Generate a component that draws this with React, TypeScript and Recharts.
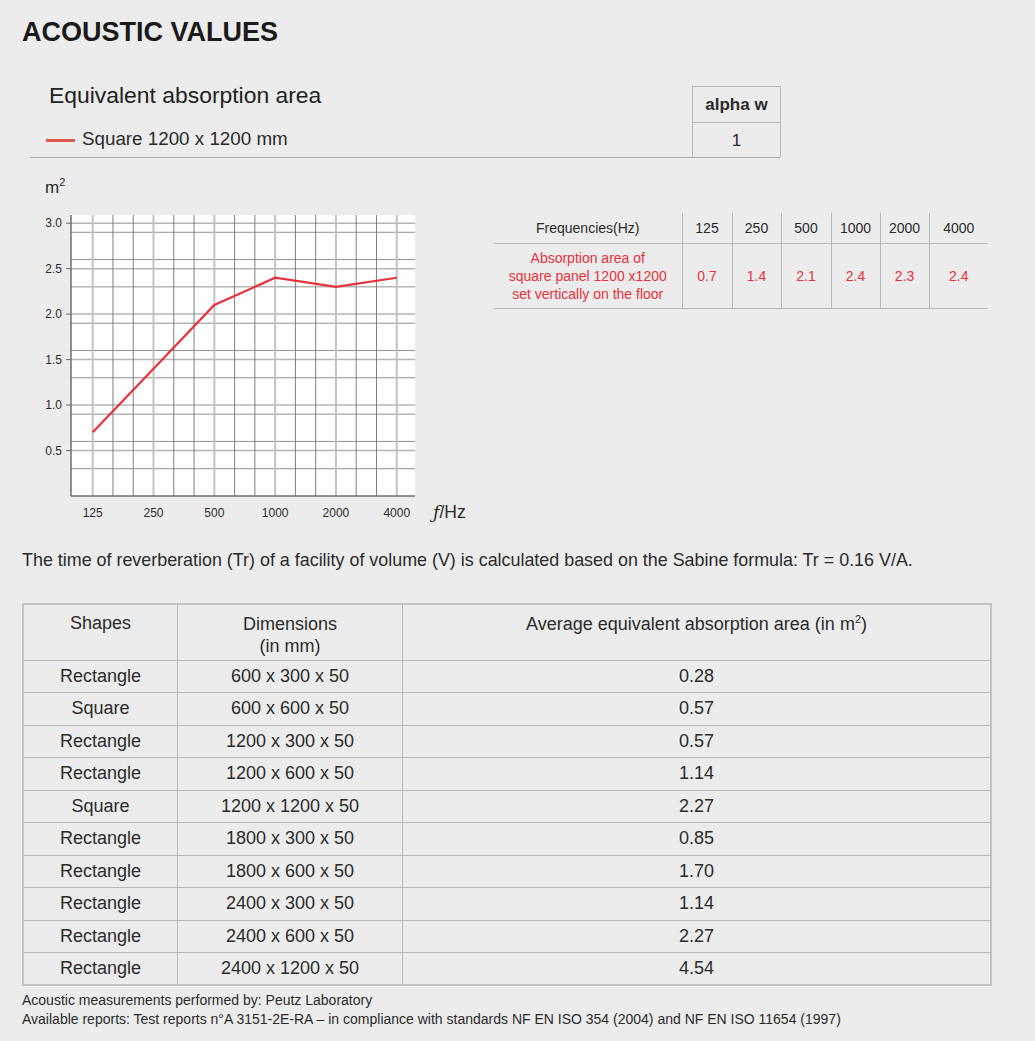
import React from "react";
import { LineChart, Line, XAxis, YAxis, CartesianGrid } from "recharts";

const frequencies = ["125", "250", "500", "1000", "2000", "4000"];
const absorptionArea = [0.7, 1.4, 2.1, 2.4, 2.3, 2.4];
const yTicks = [0.5, 1.0, 1.5, 2.0, 2.5, 3.0];

const shapes = ["Rectangle", "Square", "Rectangle", "Rectangle", "Square", "Rectangle", "Rectangle", "Rectangle", "Rectangle", "Rectangle"];
const dimensions = ["600 x 300 x 50", "600 x 600 x 50", "1200 x 300 x 50", "1200 x 600 x 50", "1200 x 1200 x 50", "1800 x 300 x 50", "1800 x 600 x 50", "2400 x 300 x 50", "2400 x 600 x 50", "2400 x 1200 x 50"];
const averageArea = ["0.28", "0.57", "0.57", "1.14", "2.27", "0.85", "1.70", "1.14", "2.27", "4.54"];

const RED = "#e8313a";
const TEXT = "#2b2b2b";
const BORDER = "#b8b8b8";
const FONT = "'Liberation Sans', Arial, sans-serif";

const chartData = frequencies.map((f, i) => ({ x: i, label: f, value: absorptionArea[i] }));

// third-octave grid lines between the octave bands
const minorX: number[] = [];
const majorX: number[] = [];
for (let k = 0; k <= (frequencies.length - 1) * 3; k++) {
  if (k % 3 === 0) majorX.push(k / 3);
  else minorX.push(k / 3);
}
// 0.1 m² rows, the 0.5 ones drawn lighter
const minorY: number[] = [];
const majorY: number[] = [];
for (let k = 1; k <= 30; k++) {
  if (k % 5 === 0) majorY.push(k / 10);
  else minorY.push(k / 10);
}

function AbsorptionChart() {
  return (
    <LineChart
      width={480}
      height={360}
      data={chartData}
      margin={{ top: 45, right: 65, bottom: 4, left: 0 }}
      style={{ position: "absolute", left: 0, top: 170 }}
    >
      <CartesianGrid
        vertical={false}
        horizontalValues={minorY}
        stroke="#8f8f8f"
        strokeWidth={1}
        fill="#ffffff"
      />
      <CartesianGrid vertical={false} horizontalValues={majorY} stroke="#b4b4b4" strokeWidth={1.5} />
      <CartesianGrid horizontal={false} verticalValues={minorX} stroke="#7e7e7e" strokeWidth={1} />
      <CartesianGrid horizontal={false} verticalValues={majorX} stroke="#c2c2c2" strokeWidth={2} />
      <XAxis
        dataKey="x"
        type="number"
        domain={[-0.357, 5.3]}
        ticks={frequencies.map((_, i) => i)}
        tickFormatter={(v: number) => frequencies[v] ?? ""}
        tickLine={false}
        axisLine={{ stroke: "#6e6e6e", strokeWidth: 1.5 }}
        tick={{ fill: TEXT, fontSize: 12, fontFamily: FONT }}
        tickMargin={6}
        height={30}
        allowDataOverflow
      />
      <YAxis
        type="number"
        domain={[0, 3.09]}
        ticks={yTicks}
        tickFormatter={(v: number) => v.toFixed(1)}
        width={71}
        tickSize={5}
        tickMargin={4}
        tickLine={{ stroke: "#6e6e6e" }}
        axisLine={{ stroke: "#6e6e6e", strokeWidth: 1.5 }}
        tick={{ fill: TEXT, fontSize: 12, fontFamily: FONT }}
        allowDataOverflow
      />
      <Line
        type="linear"
        dataKey="value"
        stroke={RED}
        strokeWidth={2.2}
        dot={false}
        isAnimationActive={false}
      />
    </LineChart>
  );
}

const cell: React.CSSProperties = {
  border: `1px solid ${BORDER}`,
  textAlign: "center",
  padding: 0,
};

const freqWidths = [50, 49, 50, 49, 49, 59];

export default function App() {
  return (
    <div
      style={{
        position: "absolute",
        left: 0,
        top: 0,
        width: 1035,
        height: 1041,
        background: "#ececec",
        fontFamily: FONT,
        color: TEXT,
        overflow: "hidden",
      }}
    >
      <div style={{ position: "absolute", left: 22, top: 17, fontSize: 27, fontWeight: 700, color: "#1a1a1a" }}>
        ACOUSTIC VALUES
      </div>
      <div style={{ position: "absolute", left: 49, top: 82, fontSize: 22.9, color: "#222" }}>
        Equivalent absorption area
      </div>
      <div style={{ position: "absolute", left: 46, top: 139, width: 29, height: 3, background: "#e0574d" }} />
      <div style={{ position: "absolute", left: 82, top: 128, fontSize: 18.8 }}>Square 1200 x 1200 mm</div>
      <div style={{ position: "absolute", left: 30, top: 157, width: 750, height: 1, background: "#a9a9a9" }} />
      <div
        style={{
          position: "absolute",
          left: 692,
          top: 86,
          width: 87,
          height: 70,
          border: `1px solid ${BORDER}`,
          borderBottom: "none",
        }}
      >
        <div style={{ height: 35, borderBottom: `1px solid ${BORDER}`, display: "flex", alignItems: "center", justifyContent: "center", fontSize: 17, fontWeight: 700 }}>
          alpha w
        </div>
        <div style={{ height: 35, display: "flex", alignItems: "center", justifyContent: "center", fontSize: 17 }}>1</div>
      </div>

      <div style={{ position: "absolute", left: 45, top: 176, fontSize: 17 }}>
        m<sup style={{ fontSize: 11 }}>2</sup>
      </div>
      <AbsorptionChart />
      <div style={{ position: "absolute", left: 433, top: 502, fontSize: 17.5 }}>
        <i style={{ fontFamily: "'DejaVu Serif', serif" }}>ƒ</i>/Hz
      </div>

      <table
        style={{
          position: "absolute",
          left: 494,
          top: 213,
          width: 494,
          tableLayout: "fixed",
          borderCollapse: "collapse",
          fontSize: 14,
        }}
      >
        <colgroup>
          <col style={{ width: 188 }} />
          {freqWidths.map((w, i) => (
            <col key={i} style={{ width: w }} />
          ))}
        </colgroup>
        <tbody>
          <tr style={{ height: 30 }}>
            <td style={{ textAlign: "center", borderBottom: `1px solid ${BORDER}`, borderRight: `1px solid ${BORDER}` }}>
              Frequencies(Hz)
            </td>
            {frequencies.map((f, i) => (
              <td
                key={f}
                style={{
                  textAlign: "center",
                  borderBottom: `1px solid ${BORDER}`,
                  borderRight: i < frequencies.length - 1 ? `1px solid ${BORDER}` : "none",
                }}
              >
                {f}
              </td>
            ))}
          </tr>
          <tr style={{ height: 65, color: RED }}>
            <td style={{ textAlign: "center", lineHeight: "18px", whiteSpace: "nowrap", borderBottom: `1px solid ${BORDER}`, borderRight: `1px solid ${BORDER}` }}>
              Absorption area of
              <br />
              square panel 1200 x1200
              <br />
              set vertically on the floor
            </td>
            {absorptionArea.map((v, i) => (
              <td
                key={i}
                style={{
                  textAlign: "center",
                  borderBottom: `1px solid ${BORDER}`,
                  borderRight: i < absorptionArea.length - 1 ? `1px solid ${BORDER}` : "none",
                }}
              >
                {v.toFixed(1)}
              </td>
            ))}
          </tr>
        </tbody>
      </table>

      <div style={{ position: "absolute", left: 22, top: 550, fontSize: 17.9 }}>
        The time of reverberation (Tr) of a facility of volume (V) is calculated based on the Sabine formula: Tr = 0.16 V/A.
      </div>

      <table
        style={{
          position: "absolute",
          left: 22,
          top: 603,
          width: 970,
          borderCollapse: "collapse",
          fontSize: 18,
          border: `2px solid #c4c4c4`,
        }}
      >
        <tbody>
          <tr style={{ height: 56 }}>
            <td style={{ ...cell, width: 153, verticalAlign: "top", paddingTop: 8 }}>Shapes</td>
            <td style={{ ...cell, width: 224, verticalAlign: "top", paddingTop: 8, lineHeight: "22px" }}>
              Dimensions
              <br />
              (in mm)
            </td>
            <td style={{ ...cell, verticalAlign: "top", paddingTop: 8 }}>
              Average equivalent absorption area (in m<sup style={{ fontSize: 11 }}>2</sup>)
            </td>
          </tr>
          {shapes.map((s, i) => (
            <tr key={i} style={{ height: 32.5 }}>
              <td style={cell}>{s}</td>
              <td style={cell}>{dimensions[i]}</td>
              <td style={cell}>{averageArea[i]}</td>
            </tr>
          ))}
        </tbody>
      </table>

      <div style={{ position: "absolute", left: 22, top: 991, fontSize: 14, lineHeight: "19px" }}>
        Acoustic measurements performed by: Peutz Laboratory
        <br />
        Available reports: Test reports n°A 3151-2E-RA – in compliance with standards NF EN ISO 354 (2004) and NF EN ISO 11654 (1997)
      </div>
    </div>
  );
}
